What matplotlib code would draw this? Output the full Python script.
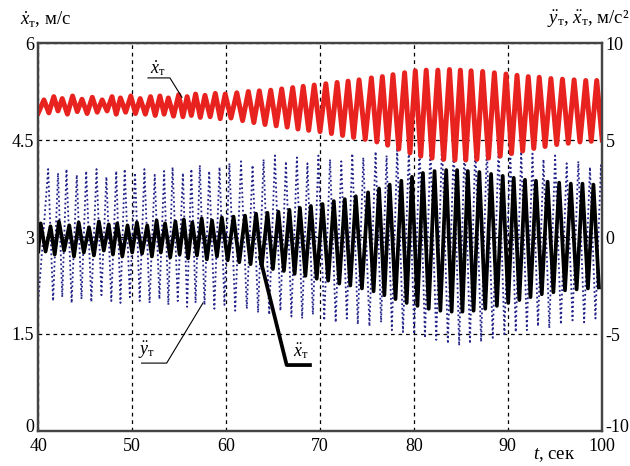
import matplotlib
matplotlib.use("Agg")
import matplotlib.pyplot as plt
import matplotlib.transforms as mtransforms

plt.rcParams["font.family"] = ["Liberation Serif", "DejaVu Serif"]
plt.rcParams["mathtext.fontset"] = "custom"
plt.rcParams["mathtext.rm"] = "Liberation Serif"
plt.rcParams["mathtext.it"] = "Liberation Serif:italic"

# times of the red peaks (one entry per oscillation cycle), sec
t_cyc = [40.6, 41.65, 42.55, 43.65, 44.65, 45.75, 46.8, 47.85, 48.75, 49.85,
         50.85, 51.95, 52.95, 53.85, 54.95, 55.85, 56.75, 57.75, 58.85, 59.9,
         61.14, 62.37, 63.54, 64.75, 65.92, 67.09, 68.21, 69.38, 70.62, 71.82,
         72.99, 74.16, 75.47, 76.64, 77.77, 79.01, 80.15, 81.31, 82.55, 83.79,
         84.95, 86.09, 87.32, 88.57, 89.81, 90.98, 92.18, 93.35, 94.59, 95.82,
         97.06, 98.3, 99.47]

# x_T' (m/s, left axis): peak and trough of each cycle
red_hi = [5.12, 5.17, 5.14, 5.18, 5.13, 5.16, 5.12, 5.17, 5.15, 5.18,
          5.14, 5.17, 5.18, 5.15, 5.2, 5.17, 5.21, 5.19, 5.22, 5.21,
          5.23, 5.25, 5.26, 5.27, 5.29, 5.31, 5.33, 5.35, 5.37, 5.39,
          5.41, 5.43, 5.46, 5.48, 5.51, 5.54, 5.57,
          5.58, 5.58, 5.59, 5.58, 5.57, 5.56, 5.54, 5.52, 5.5, 5.48,
          5.47, 5.45, 5.44, 5.43, 5.42, 5.42]
red_lo = [4.92, 4.95, 4.9, 4.94, 4.91, 4.93, 4.95, 4.9, 4.93, 4.91,
          4.9, 4.88, 4.9, 4.87, 4.86, 4.88, 4.85, 4.86, 4.83, 4.84,
          4.8, 4.77, 4.74, 4.72, 4.7, 4.67, 4.65, 4.63, 4.6, 4.57,
          4.54, 4.51, 4.47, 4.42, 4.36, 4.3, 4.25,
          4.22, 4.2, 4.19, 4.19, 4.2, 4.22, 4.25, 4.29, 4.33, 4.37,
          4.4, 4.43, 4.45, 4.47, 4.48, 4.5]

# x_T'' (m/s^2, right axis)
blk_hi = [0.7, 0.55, 0.8, 0.6, 0.75, 0.5, 0.8, 0.65, 0.7, 0.6,
          0.75, 0.6, 0.85, 0.7, 0.8, 0.9, 0.75, 0.95, 0.85, 1.0,
          1.05, 1.1, 1.2, 1.25, 1.3, 1.4, 1.5, 1.6, 1.7, 1.85,
          1.95, 2.1, 2.3, 2.5, 2.7, 2.9, 3.1,
          3.3, 3.4, 3.45, 3.45, 3.4, 3.35, 3.25, 3.15, 3.05, 2.95,
          2.9, 2.85, 2.8, 2.75, 2.75, 2.7]
blk_lo = [-0.75, -0.9, -0.7, -1.0, -0.8, -0.95, -0.7, -0.9, -1.0, -0.8,
          -0.85, -1.0, -0.8, -1.05, -0.9, -1.1, -0.95, -1.15, -1.0, -1.2,
          -1.3, -1.4, -1.5, -1.65, -1.75, -1.9, -2.0, -2.15, -2.25, -2.4,
          -2.5, -2.65, -2.8, -3.0, -3.2, -3.4, -3.55,
          -3.7, -3.8, -3.85, -3.85, -3.8, -3.7, -3.55, -3.4, -3.25, -3.1,
          -2.95, -2.85, -2.75, -2.7, -2.65, -2.6]

# y_T'' (m/s^2, right axis)
blu_hi = [3.5, 3.3, 3.5, 3.2, 3.4, 3.5, 3.1, 3.4, 3.5, 3.3,
          3.5, 3.2, 3.4, 3.6, 3.3, 3.5, 3.7, 3.4, 3.6, 3.8,
          3.9, 3.7, 4.0, 4.2, 3.9, 4.1, 3.8, 4.2, 4.0, 3.9,
          4.3, 4.1, 4.4, 4.2, 4.6, 4.5, 4.8,
          4.8, 4.9, 4.7, 4.9, 4.8, 4.6, 4.7, 4.5, 4.4, 4.3,
          4.0, 4.2, 3.8, 3.9, 3.6, 3.7]
blu_lo = [-3.3, -3.1, -3.4, -3.2, -3.35, -3.0, -3.3, -3.4, -3.1, -3.3,
          -3.4, -3.2, -3.5, -3.3, -3.6, -3.4, -3.5, -3.7, -3.5, -3.8,
          -3.7, -3.9, -4.0, -3.8, -4.1, -4.2, -4.0, -4.3, -4.4, -4.2,
          -4.5, -4.6, -4.4, -4.8, -4.9, -5.0, -5.2,
          -5.3, -5.5, -5.6, -5.5, -5.4, -5.2, -5.0, -4.9, -4.8, -4.6,
          -4.7, -4.5, -4.3, -4.4, -4.2, -4.3]

x_ticks = [40, 50, 60, 70, 80, 90, 100]
yl_ticks = [0, 1.5, 3, 4.5, 6]
yl_labels = ["0", "1.5", "3", "4.5", "6"]
yr_ticks = [-10, -5, 0, 5, 10]
yr_labels = ["-10", "-5", "0", "5", "10"]


def wave(tp, hi, lo, shift):
    # polyline through the read peaks and troughs
    t = [40.0]
    v = [lo[0]]
    for i in range(len(tp)):
        t.append(tp[i] + shift)
        v.append(hi[i])
        if i + 1 < len(tp):
            tn = (tp[i] + tp[i + 1]) / 2
        else:
            tn = tp[i] + (tp[i] - tp[i - 1]) / 2
        t.append(tn + shift)
        v.append(lo[i])
    return t, v


fig = plt.figure(figsize=(6.3, 4.66), dpi=100)
ax = fig.add_axes([38.3 / 630, 35 / 466, 563.4 / 630, 388 / 466])
ax2 = ax.twinx()
ax.set_xlim(40, 100)
ax.set_ylim(0, 6)
ax2.set_ylim(-10, 10)
ax.set_autoscale_on(False)

tb, vb = wave(t_cyc, blu_hi, blu_lo, 0.45)
ax.plot(tb, vb, transform=ax2.transData, color="#23238a", lw=1.3,
        ls=(0, (1, 1.5)), zorder=2)
tr, vr = wave(t_cyc, red_hi, red_lo, 0.0)
ax.plot(tr, vr, color="#e8231f", lw=3.6, solid_joinstyle="round", zorder=3)
tk, vk = wave(t_cyc, blk_hi, blk_lo, -0.35)
ax.plot(tk, vk, transform=ax2.transData, color="black", lw=2.7,
        solid_joinstyle="round", zorder=4)

ax.set_xticks(x_ticks)
ax.set_yticks(yl_ticks)
ax.set_yticklabels(yl_labels)
ax2.set_yticks(yr_ticks)
ax2.set_yticklabels(yr_labels)
ax.tick_params(axis="y", length=0, labelsize=13, pad=3)
ax.tick_params(axis="x", length=0, labelsize=13, pad=5)
ax2.tick_params(length=0, labelsize=13, pad=3)
ax.grid(True, color="black", ls=(0, (3, 3)), lw=0.9)
for a in (ax, ax2):
    for s in a.spines.values():
        s.set_color("#444444")
        s.set_linewidth(1.6)

# lift the two bottom y labels a little so they clear the x labels
lift = mtransforms.ScaledTranslation(0, 4 / 72, fig.dpi_scale_trans)
for lab in (ax.get_yticklabels()[0], ax2.get_yticklabels()[0]):
    lab.set_transform(lab.get_transform() + lift)

# curve labels with leader lines
ax.text(52.75, 5.62, r"$\dot{x}_{\mathrm{т}}$", fontsize=13, ha="center", va="center", zorder=6)
ax.plot([51.68, 54.02, 55.3], [5.46, 5.46, 5.16], color="black", lw=0.8, zorder=6)
ax.text(51.57, 1.24, r"$\ddot{y}_{\mathrm{т}}$", fontsize=13, ha="center", va="center", zorder=6)
ax.plot([51.0, 53.67, 57.54], [1.05, 1.05, 1.98], color="black", lw=0.8, zorder=6)
ax.text(67.97, 1.24, r"$\ddot{x}_{\mathrm{т}}$", fontsize=13, ha="center", va="center", zorder=6)
ax.plot([63.61, 66.45, 68.93], [2.68, 1.02, 1.02], color="black", lw=2.7, zorder=6)

fig.text(20 / 630, 1 - 20 / 466, r"$\dot{x}_{\mathrm{т}}$, м/с", fontsize=13.5, va="center")
fig.text(629 / 630, 1 - 19 / 466, r"$\ddot{y}_{\mathrm{т}}$, $\ddot{x}_{\mathrm{т}}$, м/с²",
         fontsize=13.5, va="center", ha="right")
fig.text(533 / 630, 1 - 455 / 466, r"$t$, сек", fontsize=13.5, va="center")

fig.savefig("out.png", dpi=100)
